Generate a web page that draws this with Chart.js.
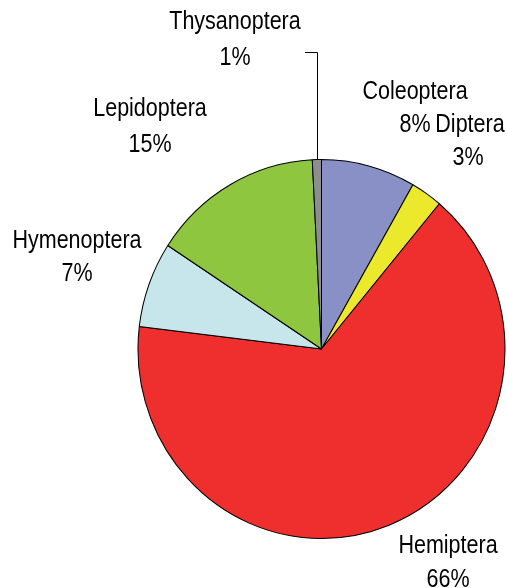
<!DOCTYPE html>
<html>
<head>
<meta charset="utf-8">
<script src="https://cdn.jsdelivr.net/npm/chart.js@4/dist/chart.umd.min.js"></script>
<style>
  html, body { margin: 0; padding: 0; background: #fff; }
  #box { width: 507px; height: 588px; position: relative; }
</style>
</head>
<body>
<div id="box"><canvas id="grafico"></canvas></div>
<script>
// Dados do gráfico
let ordens = ["Coleoptera", "Diptera", "Hemiptera", "Hymenoptera", "Lepidoptera", "Thysanoptera"];
let percentuais = [8.3, 2.8, 65.8, 7.3, 15.0, 0.8];
let cores = ["#8890C6", "#ECE82C", "#EE2F2D", "#C6E6EC", "#8EC640", "#8C8F8E"];

const fonte = '"Liberation Sans Narrow", "Arial Narrow", "Liberation Sans", sans-serif';
const estica = 190 / 184; // a pizza do original é levemente oval

// posição dos rótulos (centro de cada linha)
const posRotulos = [
    { x: 415, y: 92, x2: 415, y2: 125 },
    { x: 470, y: 125, x2: 468, y2: 158 },
    { x: 448, y: 546, x2: 448, y2: 580 },
    { x: 77, y: 241, x2: 77, y2: 274 },
    { x: 150, y: 109, x2: 150, y2: 145 },
    { x: 235, y: 22, x2: 235, y2: 58 }
];

// Plugin para deixar a pizza oval
const oval = {
    id: "oval",
    beforeDatasetsDraw(chart) {
        let a = chart.getDatasetMeta(0).data[0];
        chart.ctx.save();
        chart.ctx.translate(0, a.y);
        chart.ctx.scale(1, estica);
        chart.ctx.translate(0, -a.y);
    },
    afterDatasetsDraw(chart) {
        chart.ctx.restore();
    }
};

// Plugin para desenhar os rótulos fora da pizza
const rotulos = {
    id: "rotulos",
    afterDraw(chart) {
        let ctx = chart.ctx;
        let arcos = chart.getDatasetMeta(0).data;
        ctx.save();
        ctx.fillStyle = "#000";
        ctx.font = "25px " + fonte;
        ctx.textAlign = "center";
        ctx.textBaseline = "middle";
        let escala = 0.86; // simula a fonte estreita
        ordens.forEach((nome, i) => {
            let p = posRotulos[i];
            ctx.save();
            ctx.scale(escala, 1);
            ctx.fillText(nome, p.x / escala, p.y);
            ctx.fillText(Math.round(percentuais[i]) + "%", p.x2 / escala, p.y2);
            ctx.restore();
        });
        // linha guia do Thysanoptera
        let a = arcos[5];
        let ang = (a.startAngle + a.endAngle) / 2;
        let bx = a.x + Math.cos(ang) * a.outerRadius;
        let by = a.y + Math.sin(ang) * a.outerRadius * estica;
        ctx.strokeStyle = "#000";
        ctx.lineWidth = 1;
        ctx.beginPath();
        ctx.moveTo(305, 52.5);
        ctx.lineTo(Math.round(bx) + 0.5, 52.5);
        ctx.lineTo(Math.round(bx) + 0.5, by);
        ctx.stroke();
        ctx.restore();
    }
};

let ctx = document.getElementById("grafico").getContext("2d");
window.myChart = new Chart(ctx, {
    type: "pie",
    data: {
        labels: ordens,
        datasets: [{
            data: percentuais,
            backgroundColor: cores,
            borderColor: "#000",
            borderWidth: 1
        }]
    },
    options: {
        responsive: true,
        maintainAspectRatio: false,
        animation: false,
        layout: { padding: { left: 137, right: 1, top: 165, bottom: 55 } },
        plugins: {
            legend: { display: false },
            tooltip: { enabled: false }
        }
    },
    plugins: [oval, rotulos]
});
</script>
</body>
</html>
